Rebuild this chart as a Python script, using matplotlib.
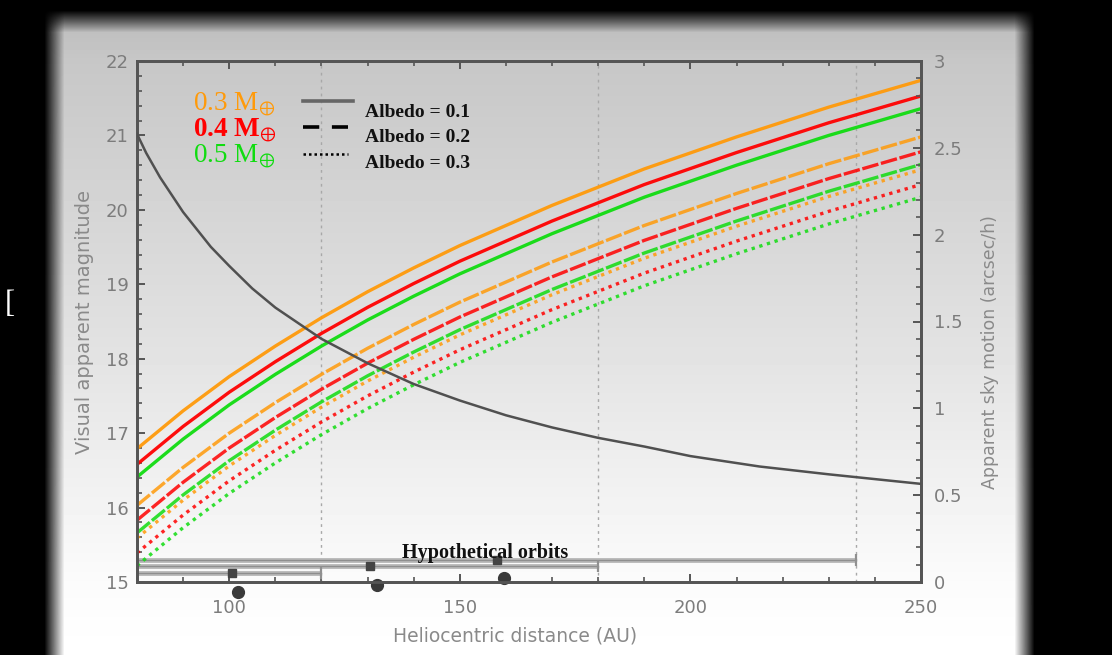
import matplotlib.pyplot as plt
import numpy as np

# ── Data ──────────────────────────────────────────────────────────────────────
DIST = [80, 90, 100, 110, 120, 130, 140, 150, 170, 190, 210, 230, 250]

# visual magnitude, albedo 0.1
MAG_M03_A01 = [16.79, 17.30, 17.76, 18.17, 18.55, 18.90, 19.22, 19.52, 20.06, 20.55, 20.98, 21.38, 21.74]
MAG_M04_A01 = [16.58, 17.09, 17.55, 17.96, 18.34, 18.69, 19.01, 19.31, 19.85, 20.34, 20.77, 21.17, 21.53]
MAG_M05_A01 = [16.41, 16.92, 17.38, 17.79, 18.17, 18.52, 18.84, 19.14, 19.68, 20.17, 20.60, 21.00, 21.36]
# albedo 0.2
MAG_M03_A02 = [16.03, 16.54, 17.00, 17.41, 17.79, 18.14, 18.46, 18.76, 19.30, 19.79, 20.22, 20.62, 20.98]
MAG_M04_A02 = [15.83, 16.34, 16.80, 17.21, 17.59, 17.94, 18.26, 18.56, 19.10, 19.59, 20.02, 20.42, 20.78]
MAG_M05_A02 = [15.66, 16.17, 16.63, 17.04, 17.42, 17.77, 18.09, 18.39, 18.93, 19.42, 19.85, 20.25, 20.61]
# albedo 0.3
MAG_M03_A03 = [15.59, 16.10, 16.56, 16.97, 17.35, 17.70, 18.02, 18.32, 18.86, 19.35, 19.78, 20.18, 20.54]
MAG_M04_A03 = [15.39, 15.90, 16.36, 16.77, 17.15, 17.50, 17.82, 18.12, 18.66, 19.15, 19.58, 19.98, 20.34]
MAG_M05_A03 = [15.22, 15.73, 16.19, 16.60, 16.98, 17.33, 17.65, 17.95, 18.49, 18.98, 19.41, 19.81, 20.17]

SKY_DIST = [80, 82, 85, 88, 90, 93, 96, 100, 105, 110, 115, 120, 125, 130, 140, 150,
            160, 170, 180, 190, 200, 215, 230, 250]
SKY_MOTION = [2.58, 2.47, 2.33, 2.21, 2.13, 2.03, 1.93, 1.82, 1.69, 1.58, 1.49, 1.40,
              1.33, 1.26, 1.14, 1.045, 0.96, 0.89, 0.83, 0.78, 0.725, 0.665, 0.62, 0.565]

MASS_LABELS = ["0.3", "0.4", "0.5"]
ALBEDO_LABELS = ["0.1", "0.2", "0.3"]

GRID_X = [120, 180, 236]
ORBIT_END = [236, 180, 120]
ORBIT_LEVEL = [15.30, 15.21, 15.12]
ORBIT_MARK = [158.0, 130.5, 100.5]
BODY_DIST = [159.6, 132.0, 102.0]
BODY_LEVEL = [15.06, 14.96, 14.87]

# ── Styling ───────────────────────────────────────────────────────────────────
MASS_COLORS = ["#ff9a0a", "#ff0000", "#10dc10"]
TICK_GRAY = "#7c7c7c"
SPINE = "#555555"
W, H = 1112, 655

plt.rcParams.update({"font.family": "DejaVu Sans", "mathtext.fontset": "stix"})

fig = plt.figure(figsize=(W / 100, H / 100), dpi=100, facecolor="black")

# slide background: vertical grey gradient with darkened frame edges
bg = fig.add_axes([0, 0, 1, 1], zorder=-5)
yy = np.arange(H)[:, None]
xx = np.arange(W)[None, :]
shade = np.interp(yy, [10, 60, 330, 582, 655], [0.73, 0.78, 0.88, 0.985, 1.0])
edge = (np.clip((xx - 44) / 20, 0, 1) * np.clip((1034 - xx) / 20, 0, 1)
        * np.clip((yy - 10) / 22, 0, 1))
bg.imshow(shade * edge, cmap="gray", vmin=0, vmax=1, aspect="auto",
          extent=[0, 1, 0, 1], interpolation="bilinear")
bg.set_axis_off()
fig.text(0.004, 0.535, "[", color="white", fontsize=22, family="Liberation Serif",
         ha="left", va="center")

# ── Main axes ─────────────────────────────────────────────────────────────────
ax = fig.add_axes([137 / W, 1 - 582 / H, 784 / W, 521 / H])
ax.set_facecolor("none")
ax.set_xlim(80, 250)
ax.set_ylim(15, 22)

for gx in GRID_X:
    ax.axvline(gx, color="#a8a8a8", lw=1.0, ls=(0, (2, 3)), zorder=1)

albedo_sets = [
    ([MAG_M03_A01, MAG_M04_A01, MAG_M05_A01], "-"),
    ([MAG_M03_A02, MAG_M04_A02, MAG_M05_A02], (0, (5, 0.8))),
    ([MAG_M03_A03, MAG_M04_A03, MAG_M05_A03], (0, (1, 1.4))),
]
for series, ls in albedo_sets:
    for mags, col in zip(series, MASS_COLORS):
        ax.plot(DIST, mags, color=col, lw=2.4, ls=ls, zorder=3,
                alpha=0.95 if ls == "-" else 0.85)

# hypothetical orbits
for end, lvl in zip(ORBIT_END, ORBIT_LEVEL):
    ax.plot([80, end], [lvl, lvl], color="#b4b4b4", lw=3.4, solid_capstyle="butt", zorder=2)
    ax.plot([80, end], [lvl, lvl], color="#8e8e8e", lw=0.8, zorder=2)
    ax.plot([end], [lvl], marker="|", ms=8, mew=1.6, color="#909090", zorder=2)
ax.plot(ORBIT_MARK, ORBIT_LEVEL, ls="none", marker="s", ms=5.5, color="#444444", zorder=4)
ax.plot(BODY_DIST, BODY_LEVEL, ls="none", marker="o", ms=8.5, color="#3a3a3a",
        zorder=5, clip_on=False)
ax.text(155.5, 15.385, "Hypothetical orbits", family="Liberation Serif", fontweight="bold",
        fontsize=14.5, ha="center", va="center", color="#111111", zorder=6)

# in-plot legend
for i, (lab, col) in enumerate(zip(MASS_LABELS, MASS_COLORS)):
    ax.text(0.071, 0.917 - i * 0.05, lab + r" M$_{\oplus}$", transform=ax.transAxes,
            family="Liberation Serif", fontsize=19.5, color=col,
            fontweight="bold" if i == 1 else "normal", ha="left", va="center")
ax.plot([0.212, 0.276], [0.923, 0.923], transform=ax.transAxes, color="#666666", lw=2.6)
ax.plot([0.212, 0.269], [0.873, 0.873], transform=ax.transAxes, color="black", lw=2.6,
        ls=(0, (4.5, 3.5)))
ax.plot([0.212, 0.269], [0.821, 0.821], transform=ax.transAxes, color="black", lw=1.8,
        ls=(0, (1, 1.2)))
for i, lab in enumerate(ALBEDO_LABELS):
    ax.text(0.291, 0.902 - i * 0.049, f"Albedo = {lab}", transform=ax.transAxes,
            family="Liberation Serif", fontweight="bold", fontsize=14,
            color="#111111", ha="left", va="center")

ax.set_xticks([100, 150, 200, 250])
ax.set_xticks(np.arange(80, 251, 10), minor=True)
ax.set_yticks(range(15, 23))
ax.set_yticks(np.arange(15, 22.01, 0.2), minor=True)
ax.tick_params(which="both", direction="in", top=True, color=SPINE, labelcolor=TICK_GRAY,
               labelsize=13)
ax.tick_params(which="major", length=6, width=1.4)
ax.tick_params(which="minor", length=3.5, width=1.2)
ax.tick_params(axis="x", pad=12)
ax.tick_params(axis="y", pad=6)
for sp in ax.spines.values():
    sp.set_color(SPINE)
    sp.set_linewidth(2)

# ── Right axis: apparent sky motion ───────────────────────────────────────────
ax2 = ax.twinx()
ax2.set_ylim(0, 3)
ax2.patch.set_visible(False)
ax2.plot(SKY_DIST, SKY_MOTION, color="#505050", lw=1.8, zorder=4)
ax2.set_yticks([0, 0.5, 1, 1.5, 2, 2.5, 3])
ax2.set_yticklabels(["0", "0.5", "1", "1.5", "2", "2.5", "3"])
ax2.set_yticks(np.arange(0, 3.01, 0.1), minor=True)
ax2.tick_params(which="both", direction="in", color=SPINE, labelcolor=TICK_GRAY,
                labelsize=13, pad=9)
ax2.tick_params(which="major", length=6, width=1.4)
ax2.tick_params(which="minor", length=3.5, width=1.2)
for sp in ax2.spines.values():
    sp.set_color(SPINE)
    sp.set_linewidth(2)

# axis titles
fig.text(85 / W, 1 - 322 / H, "Visual apparent magnitude", rotation=90, ha="center",
         va="center", fontsize=14, color="#8a8a8a")
fig.text(990 / W, 1 - 352 / H, "Apparent sky motion (arcsec/h)", rotation=90, ha="center",
         va="center", fontsize=12.5, color="#8a8a8a")
fig.text(515 / W, 1 - 636 / H, "Heliocentric distance (AU)", ha="center", va="center",
         fontsize=13.5, color="#8a8a8a")

fig.savefig("out.png", dpi=100, facecolor="black")
